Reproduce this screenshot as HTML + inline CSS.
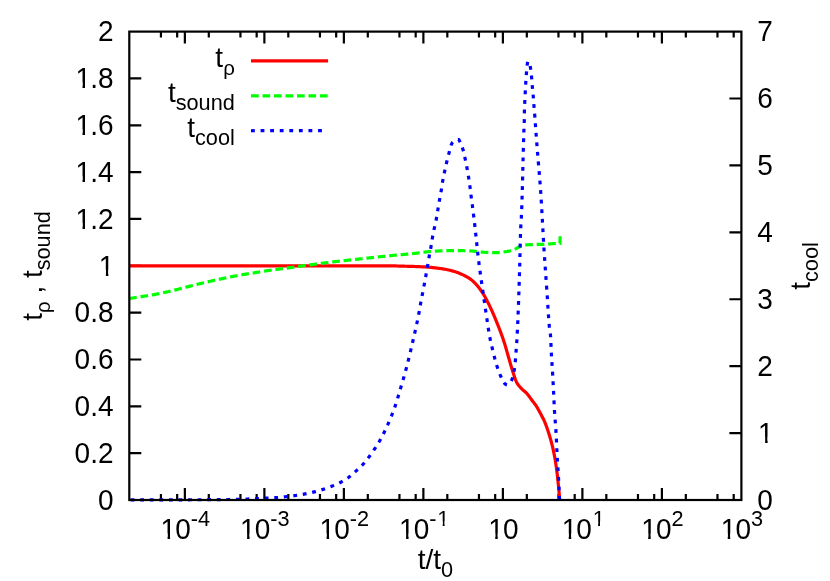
<!DOCTYPE html>
<html>
<head>
<meta charset="utf-8">
<title>plot</title>
<style>
html,body{margin:0;padding:0;background:#fff;}
body{width:830px;height:581px;overflow:hidden;font-family:"Liberation Sans",sans-serif;}
svg{display:block;will-change:transform;}
</style>
</head>
<body>
<svg width="830" height="581" viewBox="0 0 830 581" font-family="'Liberation Sans', sans-serif" font-size="28.00" fill="#000">
<rect width="830" height="581" fill="#fff"/>
<g fill="none" stroke="#000" stroke-width="2.20" stroke-linecap="butt">
<path d="M160.94,500.00 v-6.00 M160.94,31.60 v6.00 M177.17,500.00 v-6.00 M177.17,31.60 v6.00 M184.87,500.00 v-12.00 M184.87,31.60 v12.00 M208.80,500.00 v-6.00 M208.80,31.60 v6.00 M240.44,500.00 v-6.00 M240.44,31.60 v6.00 M256.67,500.00 v-6.00 M256.67,31.60 v6.00 M264.38,500.00 v-12.00 M264.38,31.60 v12.00 M288.31,500.00 v-6.00 M288.31,31.60 v6.00 M319.95,500.00 v-6.00 M319.95,31.60 v6.00 M336.17,500.00 v-6.00 M336.17,31.60 v6.00 M343.88,500.00 v-12.00 M343.88,31.60 v12.00 M367.81,500.00 v-6.00 M367.81,31.60 v6.00 M399.45,500.00 v-6.00 M399.45,31.60 v6.00 M415.68,500.00 v-6.00 M415.68,31.60 v6.00 M423.38,500.00 v-12.00 M423.38,31.60 v12.00 M447.32,500.00 v-6.00 M447.32,31.60 v6.00 M478.95,500.00 v-6.00 M478.95,31.60 v6.00 M495.18,500.00 v-6.00 M495.18,31.60 v6.00 M502.89,500.00 v-12.00 M502.89,31.60 v12.00 M526.82,500.00 v-6.00 M526.82,31.60 v6.00 M558.46,500.00 v-6.00 M558.46,31.60 v6.00 M574.69,500.00 v-6.00 M574.69,31.60 v6.00 M582.39,500.00 v-12.00 M582.39,31.60 v12.00 M606.32,500.00 v-6.00 M606.32,31.60 v6.00 M637.96,500.00 v-6.00 M637.96,31.60 v6.00 M654.19,500.00 v-6.00 M654.19,31.60 v6.00 M661.90,500.00 v-12.00 M661.90,31.60 v12.00 M685.83,500.00 v-6.00 M685.83,31.60 v6.00 M717.47,500.00 v-6.00 M717.47,31.60 v6.00 M733.70,500.00 v-6.00 M733.70,31.60 v6.00 M129.30,453.16 h12.00 M129.30,406.32 h12.00 M129.30,359.48 h12.00 M129.30,312.64 h12.00 M129.30,265.80 h12.00 M129.30,218.96 h12.00 M129.30,172.12 h12.00 M129.30,125.28 h12.00 M129.30,78.44 h12.00 M741.40,433.09 h-12.00 M741.40,366.17 h-12.00 M741.40,299.26 h-12.00 M741.40,232.34 h-12.00 M741.40,165.43 h-12.00 M741.40,98.51 h-12.00"/>
</g>
<g fill="none" stroke-width="3.20" stroke-linejoin="round">
<path d="M129.20,265.80 L130.38,265.80 L131.55,265.80 L132.73,265.80 L133.90,265.80 L135.08,265.80 L136.25,265.80 L137.43,265.80 L138.60,265.80 L139.78,265.80 L140.95,265.80 L142.13,265.80 L143.30,265.80 L144.48,265.80 L145.65,265.80 L146.83,265.80 L148.00,265.80 L149.18,265.80 L150.35,265.80 L151.53,265.80 L152.70,265.80 L153.88,265.80 L155.05,265.80 L156.23,265.80 L157.40,265.80 L158.58,265.80 L159.75,265.80 L160.93,265.80 L162.10,265.80 L163.28,265.80 L164.45,265.80 L165.63,265.80 L166.80,265.80 L167.98,265.80 L169.15,265.80 L170.33,265.80 L171.50,265.80 L172.68,265.80 L173.85,265.80 L175.03,265.80 L176.20,265.80 L177.38,265.80 L178.55,265.80 L179.73,265.80 L180.90,265.80 L182.08,265.80 L183.25,265.80 L184.43,265.80 L185.60,265.80 L186.78,265.80 L187.95,265.80 L189.13,265.80 L190.30,265.80 L191.48,265.80 L192.65,265.80 L193.83,265.80 L195.00,265.80 L196.18,265.80 L197.35,265.80 L198.53,265.80 L199.70,265.80 L200.88,265.80 L202.05,265.80 L203.23,265.80 L204.40,265.80 L205.58,265.80 L206.75,265.80 L207.93,265.80 L209.10,265.80 L210.28,265.80 L211.45,265.80 L212.63,265.80 L213.80,265.80 L214.98,265.80 L216.15,265.80 L217.33,265.80 L218.50,265.80 L219.68,265.80 L220.85,265.80 L222.03,265.80 L223.20,265.80 L224.38,265.80 L225.55,265.80 L226.73,265.80 L227.90,265.80 L229.08,265.80 L230.25,265.80 L231.43,265.80 L232.60,265.80 L233.78,265.80 L234.95,265.80 L236.13,265.80 L237.30,265.80 L238.48,265.80 L239.65,265.80 L240.83,265.80 L242.00,265.80 L243.18,265.80 L244.35,265.80 L245.53,265.80 L246.70,265.80 L247.88,265.80 L249.05,265.80 L250.23,265.80 L251.40,265.80 L252.58,265.80 L253.75,265.80 L254.93,265.80 L256.10,265.80 L257.28,265.80 L258.45,265.80 L259.63,265.80 L260.80,265.80 L261.98,265.80 L263.15,265.80 L264.33,265.80 L265.50,265.80 L266.68,265.80 L267.85,265.80 L269.03,265.80 L270.20,265.80 L271.38,265.80 L272.55,265.80 L273.73,265.80 L274.90,265.80 L276.08,265.80 L277.25,265.80 L278.43,265.80 L279.60,265.80 L280.78,265.80 L281.95,265.80 L283.13,265.80 L284.30,265.80 L285.48,265.80 L286.65,265.80 L287.83,265.80 L289.00,265.80 L290.18,265.80 L291.35,265.80 L292.53,265.80 L293.70,265.80 L294.88,265.80 L296.05,265.80 L297.23,265.80 L298.40,265.80 L299.58,265.80 L300.75,265.80 L301.93,265.80 L303.10,265.80 L304.28,265.80 L305.45,265.80 L306.63,265.80 L307.80,265.80 L308.98,265.80 L310.15,265.80 L311.33,265.80 L312.50,265.80 L313.68,265.80 L314.85,265.80 L316.03,265.80 L317.20,265.80 L318.38,265.80 L319.55,265.80 L320.73,265.80 L321.90,265.80 L323.08,265.80 L324.25,265.80 L325.43,265.80 L326.60,265.80 L327.78,265.80 L328.95,265.80 L330.13,265.80 L331.30,265.80 L332.48,265.80 L333.66,265.80 L334.83,265.80 L336.01,265.80 L337.18,265.80 L338.36,265.80 L339.53,265.80 L340.71,265.80 L341.88,265.80 L343.06,265.80 L344.23,265.80 L345.41,265.80 L346.58,265.80 L347.76,265.80 L348.93,265.80 L350.11,265.80 L351.28,265.80 L352.46,265.80 L353.63,265.80 L354.81,265.80 L355.98,265.80 L357.16,265.80 L358.33,265.80 L359.51,265.80 L360.68,265.80 L361.86,265.80 L363.03,265.80 L364.21,265.80 L365.38,265.80 L366.56,265.80 L367.73,265.80 L368.91,265.80 L370.08,265.80 L371.26,265.80 L372.43,265.80 L373.61,265.80 L374.78,265.80 L375.96,265.80 L377.13,265.80 L378.31,265.80 L379.48,265.80 L380.66,265.80 L381.83,265.80 L383.01,265.80 L384.18,265.80 L385.35,265.80 L386.53,265.80 L387.70,265.80 L388.88,265.81 L390.05,265.82 L391.23,265.84 L392.40,265.87 L393.58,265.90 L394.75,265.94 L395.93,265.97 L397.10,266.01 L398.28,266.05 L399.45,266.08 L400.63,266.12 L401.80,266.15 L402.98,266.18 L404.15,266.21 L405.33,266.24 L406.50,266.27 L407.68,266.30 L408.85,266.34 L410.03,266.37 L411.20,266.40 L412.38,266.44 L413.55,266.47 L414.73,266.51 L415.90,266.55 L417.08,266.59 L418.25,266.64 L419.42,266.69 L420.60,266.73 L421.77,266.79 L422.94,266.84 L424.11,266.90 L425.29,266.97 L426.46,267.04 L427.63,267.12 L428.80,267.22 L429.98,267.32 L431.15,267.42 L432.32,267.54 L433.49,267.66 L434.66,267.79 L435.83,267.93 L437.00,268.07 L438.16,268.22 L439.33,268.37 L440.49,268.53 L441.64,268.69 L442.80,268.87 L443.96,269.07 L445.12,269.28 L446.28,269.51 L447.44,269.75 L448.59,270.01 L449.74,270.27 L450.88,270.56 L452.02,270.85 L453.16,271.16 L454.28,271.47 L455.40,271.80 L456.51,272.16 L457.62,272.55 L458.71,272.98 L459.80,273.44 L460.88,273.92 L461.96,274.41 L463.02,274.91 L464.08,275.42 L465.14,275.94 L466.19,276.49 L467.23,277.06 L468.25,277.65 L469.23,278.28 L470.18,278.93 L471.11,279.63 L472.02,280.37 L472.91,281.15 L473.78,281.96 L474.63,282.79 L475.46,283.65 L476.25,284.51 L477.03,285.37 L477.78,286.26 L478.52,287.17 L479.25,288.10 L479.95,289.05 L480.64,290.01 L481.32,290.99 L481.97,291.97 L482.61,292.95 L483.24,293.94 L483.85,294.94 L484.45,295.94 L485.03,296.96 L485.60,297.99 L486.17,299.02 L486.72,300.06 L487.26,301.11 L487.79,302.16 L488.32,303.22 L488.84,304.28 L489.35,305.34 L489.86,306.39 L490.36,307.45 L490.86,308.51 L491.35,309.58 L491.84,310.65 L492.32,311.72 L492.80,312.80 L493.27,313.87 L493.73,314.95 L494.20,316.04 L494.65,317.12 L495.11,318.21 L495.56,319.29 L496.00,320.38 L496.44,321.47 L496.88,322.56 L497.32,323.65 L497.76,324.74 L498.19,325.83 L498.62,326.92 L499.05,328.02 L499.48,329.11 L499.90,330.21 L500.32,331.31 L500.74,332.41 L501.15,333.51 L501.55,334.62 L501.95,335.72 L502.34,336.83 L502.73,337.94 L503.11,339.05 L503.49,340.16 L503.85,341.28 L504.21,342.39 L504.56,343.51 L504.91,344.64 L505.24,345.76 L505.58,346.89 L505.91,348.01 L506.23,349.14 L506.55,350.28 L506.88,351.41 L507.20,352.54 L507.52,353.67 L507.84,354.80 L508.16,355.93 L508.48,357.06 L508.81,358.19 L509.15,359.32 L509.48,360.44 L509.81,361.57 L510.14,362.70 L510.46,363.83 L510.79,364.96 L511.12,366.09 L511.45,367.22 L511.78,368.35 L512.12,369.47 L512.46,370.60 L512.82,371.72 L513.18,372.83 L513.55,373.95 L513.92,375.06 L514.29,376.19 L514.67,377.32 L515.06,378.45 L515.46,379.57 L515.90,380.66 L516.36,381.72 L516.87,382.75 L517.44,383.74 L518.09,384.70 L518.82,385.63 L519.60,386.54 L520.40,387.43 L521.21,388.29 L522.03,389.13 L522.90,389.92 L523.80,390.68 L524.71,391.43 L525.60,392.21 L526.43,393.03 L527.21,393.89 L527.95,394.80 L528.67,395.73 L529.37,396.67 L530.07,397.63 L530.76,398.59 L531.45,399.54 L532.16,400.48 L532.87,401.41 L533.59,402.35 L534.29,403.29 L534.99,404.24 L535.67,405.20 L536.33,406.17 L536.96,407.15 L537.56,408.16 L538.15,409.18 L538.71,410.21 L539.27,411.25 L539.82,412.29 L540.37,413.33 L540.93,414.36 L541.49,415.40 L542.04,416.44 L542.59,417.48 L543.12,418.53 L543.64,419.58 L544.14,420.65 L544.61,421.72 L545.06,422.80 L545.49,423.89 L545.92,424.98 L546.33,426.08 L546.73,427.19 L547.12,428.30 L547.51,429.41 L547.88,430.53 L548.25,431.65 L548.61,432.77 L548.96,433.89 L549.30,435.01 L549.64,436.14 L549.98,437.26 L550.31,438.39 L550.64,439.52 L550.95,440.65 L551.27,441.79 L551.57,442.92 L551.87,444.06 L552.16,445.20 L552.44,446.34 L552.71,447.49 L552.97,448.63 L553.23,449.77 L553.47,450.92 L553.71,452.07 L553.95,453.22 L554.18,454.38 L554.40,455.53 L554.62,456.69 L554.83,457.84 L555.04,459.00 L555.24,460.16 L555.43,461.32 L555.62,462.48 L555.80,463.64 L555.97,464.80 L556.14,465.96 L556.31,467.13 L556.47,468.29 L556.62,469.45 L556.77,470.62 L556.92,471.79 L557.06,472.95 L557.20,474.12 L557.34,475.29 L557.47,476.46 L557.60,477.62 L557.73,478.79 L557.86,479.96 L557.99,481.13 L558.11,482.30 L558.23,483.47 L558.34,484.63 L558.46,485.80 L558.57,486.97 L558.68,488.14 L558.79,489.31 L558.90,490.48 L559.01,491.65 L559.11,492.82 L559.21,493.99 L559.32,495.17 L559.41,496.34 L559.51,497.51 L559.61,498.68 L559.70,499.85" stroke="#f00"/>
<path d="M129.20,298.50 L130.07,298.38 L130.93,298.25 L131.80,298.12 L132.66,298.00 L133.52,297.87 L134.39,297.74 L135.25,297.61 L136.12,297.48 L136.98,297.35 L137.85,297.22 L138.71,297.09 L139.57,296.95 L140.44,296.82 L141.30,296.68 L142.16,296.55 L143.03,296.41 L143.89,296.27 L144.75,296.14 L145.62,296.00 L146.48,295.86 L147.34,295.73 L148.21,295.59 L149.07,295.45 L149.93,295.31 L150.79,295.16 L151.66,295.02 L152.52,294.87 L153.38,294.72 L154.24,294.57 L155.10,294.41 L155.96,294.25 L156.81,294.09 L157.67,293.92 L158.53,293.75 L159.39,293.58 L160.24,293.40 L161.10,293.22 L161.95,293.04 L162.81,292.85 L163.66,292.67 L164.51,292.48 L165.37,292.29 L166.22,292.09 L167.07,291.90 L167.93,291.71 L168.78,291.51 L169.63,291.32 L170.48,291.12 L171.33,290.91 L172.18,290.71 L173.03,290.50 L173.88,290.29 L174.72,290.08 L175.57,289.87 L176.42,289.66 L177.27,289.44 L178.12,289.23 L178.96,289.02 L179.81,288.80 L180.66,288.59 L181.50,288.37 L182.35,288.16 L183.20,287.94 L184.04,287.72 L184.89,287.49 L185.73,287.27 L186.58,287.05 L187.42,286.82 L188.27,286.60 L189.11,286.38 L189.96,286.16 L190.80,285.94 L191.65,285.72 L192.50,285.50 L193.34,285.29 L194.19,285.08 L195.04,284.87 L195.89,284.66 L196.74,284.46 L197.59,284.25 L198.44,284.05 L199.29,283.84 L200.14,283.64 L200.99,283.44 L201.84,283.24 L202.69,283.04 L203.54,282.84 L204.39,282.64 L205.25,282.45 L206.10,282.25 L206.95,282.05 L207.80,281.85 L208.65,281.65 L209.50,281.45 L210.35,281.26 L211.20,281.06 L212.06,280.86 L212.91,280.66 L213.76,280.47 L214.61,280.28 L215.46,280.08 L216.32,279.89 L217.17,279.70 L218.02,279.51 L218.88,279.33 L219.73,279.14 L220.58,278.96 L221.44,278.77 L222.29,278.59 L223.15,278.41 L224.00,278.23 L224.86,278.05 L225.72,277.88 L226.57,277.70 L227.43,277.53 L228.29,277.35 L229.14,277.18 L230.00,277.01 L230.86,276.84 L231.72,276.68 L232.57,276.51 L233.43,276.35 L234.29,276.19 L235.15,276.03 L236.01,275.87 L236.87,275.71 L237.73,275.55 L238.59,275.40 L239.45,275.24 L240.31,275.09 L241.17,274.94 L242.03,274.79 L242.89,274.64 L243.75,274.49 L244.62,274.35 L245.48,274.20 L246.34,274.06 L247.20,273.92 L248.07,273.78 L248.93,273.65 L249.79,273.51 L250.66,273.38 L251.52,273.24 L252.38,273.11 L253.25,272.97 L254.11,272.84 L254.97,272.70 L255.84,272.57 L256.70,272.43 L257.56,272.29 L258.43,272.15 L259.29,272.01 L260.15,271.87 L261.01,271.73 L261.88,271.59 L262.74,271.44 L263.60,271.30 L264.46,271.16 L265.33,271.02 L266.19,270.88 L267.05,270.75 L267.92,270.61 L268.78,270.48 L269.64,270.35 L270.51,270.23 L271.37,270.10 L272.24,269.98 L273.10,269.86 L273.97,269.74 L274.84,269.63 L275.70,269.51 L276.57,269.40 L277.44,269.29 L278.30,269.17 L279.17,269.06 L280.04,268.95 L280.90,268.84 L281.77,268.73 L282.64,268.62 L283.50,268.51 L284.37,268.39 L285.24,268.28 L286.10,268.17 L286.97,268.05 L287.84,267.94 L288.70,267.82 L289.57,267.70 L290.44,267.58 L291.30,267.46 L292.17,267.34 L293.03,267.22 L293.90,267.10 L294.76,266.98 L295.63,266.86 L296.49,266.74 L297.36,266.61 L298.23,266.49 L299.09,266.37 L299.96,266.25 L300.82,266.13 L301.69,266.01 L302.55,265.89 L303.42,265.77 L304.28,265.65 L305.15,265.53 L306.02,265.41 L306.88,265.29 L307.75,265.18 L308.61,265.06 L309.48,264.94 L310.35,264.82 L311.21,264.71 L312.08,264.59 L312.94,264.47 L313.81,264.36 L314.68,264.24 L315.54,264.13 L316.41,264.01 L317.28,263.90 L318.14,263.78 L319.01,263.67 L319.88,263.56 L320.74,263.44 L321.61,263.33 L322.48,263.22 L323.34,263.11 L324.21,263.00 L325.08,262.89 L325.94,262.78 L326.81,262.67 L327.68,262.56 L328.55,262.45 L329.41,262.34 L330.28,262.23 L331.15,262.13 L332.01,262.02 L332.88,261.91 L333.75,261.81 L334.62,261.70 L335.48,261.60 L336.35,261.49 L337.22,261.39 L338.09,261.29 L338.96,261.18 L339.82,261.08 L340.69,260.98 L341.56,260.88 L342.43,260.79 L343.30,260.69 L344.17,260.59 L345.04,260.50 L345.90,260.41 L346.77,260.31 L347.64,260.22 L348.51,260.13 L349.38,260.04 L350.25,259.95 L351.12,259.86 L351.99,259.77 L352.86,259.69 L353.73,259.60 L354.60,259.51 L355.47,259.42 L356.34,259.33 L357.21,259.24 L358.07,259.15 L358.94,259.06 L359.81,258.96 L360.68,258.87 L361.55,258.77 L362.42,258.68 L363.29,258.58 L364.16,258.49 L365.03,258.39 L365.89,258.29 L366.76,258.19 L367.63,258.09 L368.50,258.00 L369.37,257.90 L370.24,257.80 L371.10,257.70 L371.97,257.60 L372.84,257.51 L373.71,257.41 L374.58,257.31 L375.45,257.22 L376.32,257.12 L377.18,257.03 L378.05,256.94 L378.92,256.85 L379.79,256.75 L380.66,256.66 L381.53,256.58 L382.40,256.49 L383.27,256.40 L384.14,256.31 L385.01,256.22 L385.88,256.13 L386.75,256.05 L387.62,255.96 L388.49,255.88 L389.36,255.79 L390.23,255.71 L391.10,255.62 L391.97,255.54 L392.84,255.45 L393.71,255.37 L394.58,255.28 L395.45,255.20 L396.32,255.12 L397.19,255.03 L398.06,254.95 L398.93,254.87 L399.80,254.80 L400.67,254.72 L401.54,254.64 L402.41,254.57 L403.28,254.49 L404.15,254.41 L405.02,254.34 L405.89,254.26 L406.76,254.18 L407.63,254.11 L408.50,254.03 L409.37,253.95 L410.24,253.87 L411.11,253.78 L411.98,253.70 L412.85,253.61 L413.72,253.52 L414.59,253.42 L415.46,253.32 L416.33,253.22 L417.19,253.10 L418.06,252.99 L418.93,252.87 L419.79,252.74 L420.66,252.62 L421.53,252.50 L422.39,252.38 L423.26,252.26 L424.13,252.15 L424.99,252.04 L425.86,251.93 L426.73,251.84 L427.60,251.75 L428.47,251.67 L429.34,251.60 L430.21,251.53 L431.08,251.47 L431.95,251.40 L432.82,251.34 L433.69,251.27 L434.56,251.21 L435.44,251.15 L436.31,251.09 L437.18,251.03 L438.05,250.98 L438.93,250.92 L439.80,250.87 L440.67,250.83 L441.55,250.78 L442.42,250.74 L443.30,250.71 L444.17,250.68 L445.04,250.65 L445.92,250.63 L446.79,250.61 L447.66,250.60 L448.54,250.60 L449.41,250.60 L450.28,250.60 L451.16,250.60 L452.03,250.61 L452.91,250.61 L453.78,250.62 L454.66,250.62 L455.53,250.63 L456.40,250.64 L457.28,250.64 L458.15,250.65 L459.03,250.66 L459.90,250.67 L460.78,250.68 L461.65,250.70 L462.53,250.71 L463.40,250.72 L464.27,250.74 L465.15,250.75 L466.02,250.77 L466.89,250.78 L467.76,250.80 L468.64,250.82 L469.51,250.87 L470.38,250.92 L471.25,250.99 L472.12,251.07 L472.99,251.16 L473.86,251.25 L474.73,251.35 L475.60,251.46 L476.47,251.56 L477.34,251.66 L478.21,251.77 L479.08,251.86 L479.95,251.95 L480.82,252.03 L481.69,252.10 L482.56,252.16 L483.43,252.21 L484.30,252.24 L485.18,252.28 L486.05,252.32 L486.92,252.36 L487.80,252.39 L488.67,252.43 L489.55,252.46 L490.42,252.49 L491.30,252.51 L492.17,252.54 L493.04,252.56 L493.92,252.58 L494.79,252.59 L495.66,252.60 L496.54,252.60 L497.41,252.59 L498.28,252.56 L499.15,252.51 L500.03,252.44 L500.90,252.36 L501.77,252.26 L502.65,252.15 L503.51,252.03 L504.38,251.91 L505.24,251.78 L506.10,251.65 L506.96,251.51 L507.82,251.34 L508.67,251.16 L509.53,250.94 L510.38,250.71 L511.22,250.46 L512.06,250.20 L512.89,249.92 L513.71,249.64 L514.52,249.34 L515.31,248.98 L516.09,248.57 L516.86,248.14 L517.62,247.70 L518.40,247.28 L519.18,246.90 L519.98,246.57 L520.80,246.26 L521.63,245.95 L522.46,245.65 L523.30,245.38 L524.15,245.15 L525.00,244.98 L525.86,244.89 L526.72,244.83 L527.58,244.77 L528.45,244.73 L529.32,244.69 L530.20,244.65 L531.08,244.62 L531.96,244.59 L532.84,244.57 L533.72,244.54 L534.59,244.52 L535.47,244.50 L536.34,244.47 L537.22,244.46 L538.09,244.44 L538.96,244.42 L539.84,244.41 L540.71,244.40 L541.59,244.38 L542.46,244.36 L543.33,244.35 L544.21,244.32 L545.08,244.29 L545.95,244.25 L546.82,244.20 L547.69,244.14 L548.57,244.06 L549.44,243.99 L550.31,243.91 L551.18,243.83 L552.05,243.75 L552.92,243.68 L553.79,243.61 L554.66,243.53 L555.53,243.46 L556.41,243.40 L557.28,243.37 L558.15,243.34 L559.03,243.31 L559.90,243.30 L560.15,236.30" stroke="#0f0" stroke-dasharray="7.65 3.82" stroke-linejoin="miter"/>
<path d="M129.20,499.85 L130.38,499.85 L131.55,499.85 L132.73,499.85 L133.90,499.85 L135.08,499.85 L136.25,499.85 L137.43,499.85 L138.60,499.85 L139.78,499.85 L140.95,499.85 L142.13,499.85 L143.30,499.85 L144.48,499.85 L145.65,499.84 L146.83,499.84 L148.00,499.84 L149.18,499.84 L150.35,499.84 L151.53,499.84 L152.70,499.84 L153.88,499.84 L155.05,499.84 L156.23,499.83 L157.40,499.83 L158.58,499.83 L159.75,499.83 L160.93,499.83 L162.10,499.83 L163.28,499.83 L164.45,499.82 L165.63,499.82 L166.80,499.82 L167.98,499.82 L169.15,499.82 L170.33,499.82 L171.50,499.81 L172.68,499.81 L173.85,499.81 L175.03,499.81 L176.20,499.80 L177.38,499.80 L178.55,499.80 L179.73,499.80 L180.90,499.80 L182.08,499.79 L183.25,499.79 L184.43,499.79 L185.60,499.79 L186.78,499.78 L187.95,499.78 L189.13,499.78 L190.30,499.77 L191.48,499.77 L192.65,499.77 L193.83,499.77 L195.00,499.76 L196.18,499.76 L197.35,499.76 L198.53,499.75 L199.70,499.75 L200.88,499.75 L202.05,499.74 L203.23,499.74 L204.40,499.73 L205.58,499.73 L206.76,499.72 L207.93,499.71 L209.11,499.71 L210.28,499.70 L211.46,499.69 L212.63,499.68 L213.81,499.67 L214.98,499.66 L216.16,499.65 L217.33,499.64 L218.51,499.62 L219.68,499.61 L220.86,499.60 L222.03,499.58 L223.21,499.57 L224.38,499.56 L225.56,499.54 L226.73,499.52 L227.91,499.51 L229.08,499.49 L230.26,499.47 L231.43,499.46 L232.61,499.44 L233.78,499.42 L234.96,499.40 L236.13,499.38 L237.30,499.36 L238.48,499.33 L239.65,499.30 L240.83,499.26 L242.00,499.23 L243.18,499.19 L244.35,499.14 L245.53,499.10 L246.70,499.06 L247.88,499.01 L249.05,498.96 L250.22,498.91 L251.40,498.86 L252.57,498.81 L253.75,498.76 L254.92,498.70 L256.09,498.65 L257.27,498.58 L258.44,498.51 L259.61,498.44 L260.78,498.37 L261.96,498.29 L263.13,498.22 L264.30,498.16 L265.48,498.10 L266.65,498.04 L267.83,498.00 L269.00,497.96 L270.18,497.91 L271.35,497.87 L272.52,497.83 L273.70,497.77 L274.87,497.71 L276.04,497.64 L277.21,497.55 L278.38,497.45 L279.55,497.33 L280.72,497.21 L281.89,497.09 L283.06,496.96 L284.23,496.84 L285.40,496.72 L286.57,496.59 L287.74,496.47 L288.90,496.34 L290.07,496.21 L291.24,496.07 L292.41,495.93 L293.57,495.78 L294.74,495.63 L295.90,495.46 L297.06,495.29 L298.22,495.11 L299.38,494.93 L300.54,494.74 L301.70,494.54 L302.86,494.33 L304.02,494.12 L305.17,493.91 L306.32,493.68 L307.48,493.45 L308.63,493.21 L309.78,492.96 L310.93,492.71 L312.07,492.44 L313.21,492.17 L314.35,491.89 L315.49,491.59 L316.62,491.29 L317.76,490.97 L318.89,490.64 L320.01,490.31 L321.14,489.97 L322.26,489.62 L323.38,489.26 L324.49,488.90 L325.61,488.52 L326.72,488.13 L327.83,487.74 L328.93,487.34 L330.03,486.93 L331.13,486.51 L332.22,486.08 L333.31,485.64 L334.40,485.19 L335.49,484.74 L336.57,484.27 L337.64,483.78 L338.71,483.29 L339.76,482.77 L340.80,482.24 L341.84,481.69 L342.87,481.11 L343.89,480.52 L344.90,479.91 L345.90,479.28 L346.88,478.64 L347.85,477.98 L348.79,477.30 L349.71,476.58 L350.62,475.84 L351.52,475.07 L352.40,474.29 L353.28,473.50 L354.15,472.71 L355.03,471.92 L355.90,471.13 L356.78,470.35 L357.66,469.56 L358.53,468.77 L359.40,467.97 L360.25,467.17 L361.09,466.35 L361.92,465.51 L362.72,464.66 L363.50,463.79 L364.27,462.90 L365.02,462.00 L365.76,461.09 L366.50,460.16 L367.22,459.23 L367.94,458.30 L368.65,457.37 L369.36,456.43 L370.06,455.49 L370.76,454.54 L371.44,453.59 L372.12,452.63 L372.80,451.66 L373.46,450.69 L374.12,449.72 L374.77,448.74 L375.41,447.76 L376.05,446.77 L376.69,445.78 L377.31,444.78 L377.93,443.78 L378.53,442.78 L379.13,441.77 L379.72,440.75 L380.30,439.73 L380.87,438.70 L381.43,437.67 L381.98,436.63 L382.53,435.59 L383.07,434.54 L383.60,433.50 L384.13,432.45 L384.64,431.39 L385.15,430.33 L385.65,429.27 L386.15,428.20 L386.64,427.13 L387.12,426.06 L387.60,424.99 L388.08,423.92 L388.55,422.84 L389.02,421.76 L389.49,420.69 L389.95,419.60 L390.41,418.52 L390.86,417.43 L391.30,416.35 L391.74,415.26 L392.17,414.16 L392.60,413.07 L393.02,411.97 L393.44,410.88 L393.86,409.77 L394.26,408.67 L394.66,407.57 L395.04,406.46 L395.42,405.34 L395.79,404.23 L396.15,403.11 L396.50,401.99 L396.85,400.87 L397.20,399.75 L397.54,398.62 L397.87,397.50 L398.20,396.37 L398.53,395.24 L398.86,394.11 L399.19,392.98 L399.52,391.85 L399.85,390.72 L400.17,389.59 L400.50,388.47 L400.84,387.34 L401.17,386.21 L401.50,385.09 L401.84,383.96 L402.17,382.83 L402.50,381.70 L402.84,380.58 L403.17,379.45 L403.50,378.32 L403.83,377.19 L404.15,376.06 L404.47,374.93 L404.79,373.80 L405.11,372.67 L405.42,371.54 L405.73,370.41 L406.03,369.27 L406.33,368.14 L406.63,367.00 L406.92,365.86 L407.21,364.72 L407.50,363.58 L407.79,362.44 L408.07,361.30 L408.35,360.16 L408.63,359.02 L408.91,357.88 L409.18,356.73 L409.46,355.59 L409.73,354.45 L410.01,353.31 L410.28,352.16 L410.55,351.02 L410.82,349.88 L411.10,348.73 L411.37,347.59 L411.64,346.45 L411.91,345.30 L412.18,344.16 L412.45,343.02 L412.71,341.87 L412.98,340.73 L413.24,339.58 L413.51,338.44 L413.77,337.29 L414.03,336.14 L414.29,335.00 L414.54,333.85 L414.80,332.71 L415.05,331.56 L415.31,330.41 L415.56,329.26 L415.81,328.12 L416.07,326.97 L416.32,325.82 L416.57,324.67 L416.82,323.52 L417.06,322.37 L417.31,321.22 L417.55,320.07 L417.79,318.92 L418.03,317.77 L418.26,316.62 L418.49,315.47 L418.71,314.31 L418.93,313.16 L419.15,312.01 L419.35,310.85 L419.55,309.69 L419.74,308.53 L419.93,307.37 L420.13,306.21 L420.33,305.05 L420.53,303.90 L420.74,302.74 L420.96,301.59 L421.18,300.43 L421.40,299.28 L421.63,298.13 L421.86,296.97 L422.08,295.82 L422.31,294.67 L422.53,293.51 L422.76,292.36 L422.98,291.21 L423.20,290.05 L423.42,288.90 L423.64,287.74 L423.86,286.59 L424.08,285.43 L424.30,284.28 L424.51,283.12 L424.73,281.97 L424.94,280.81 L425.15,279.66 L425.36,278.50 L425.57,277.34 L425.78,276.19 L425.98,275.03 L426.19,273.87 L426.40,272.72 L426.61,271.56 L426.81,270.40 L427.02,269.25 L427.22,268.09 L427.42,266.93 L427.62,265.77 L427.82,264.62 L428.01,263.46 L428.20,262.30 L428.39,261.14 L428.58,259.98 L428.77,258.82 L428.97,257.66 L429.16,256.50 L429.37,255.34 L429.58,254.19 L429.80,253.03 L430.02,251.88 L430.24,250.73 L430.46,249.57 L430.68,248.42 L430.89,247.26 L431.08,246.10 L431.27,244.94 L431.45,243.78 L431.63,242.62 L431.81,241.46 L431.99,240.29 L432.17,239.13 L432.37,237.98 L432.58,236.82 L432.80,235.67 L433.02,234.51 L433.25,233.36 L433.49,232.21 L433.73,231.06 L433.97,229.91 L434.22,228.76 L434.46,227.61 L434.70,226.46 L434.95,225.31 L435.21,224.16 L435.47,223.02 L435.72,221.87 L435.97,220.72 L436.21,219.57 L436.44,218.42 L436.65,217.26 L436.85,216.11 L437.04,214.95 L437.22,213.79 L437.40,212.62 L437.58,211.46 L437.76,210.30 L437.94,209.14 L438.14,207.98 L438.33,206.82 L438.53,205.66 L438.73,204.51 L438.93,203.35 L439.13,202.19 L439.33,201.03 L439.53,199.88 L439.74,198.72 L439.95,197.56 L440.17,196.41 L440.39,195.25 L440.60,194.10 L440.82,192.94 L441.03,191.79 L441.23,190.63 L441.42,189.47 L441.60,188.31 L441.77,187.15 L441.94,185.98 L442.10,184.82 L442.28,183.66 L442.45,182.49 L442.64,181.33 L442.85,180.18 L443.06,179.02 L443.28,177.87 L443.51,176.72 L443.75,175.57 L443.99,174.41 L444.23,173.26 L444.48,172.12 L444.72,170.97 L444.97,169.82 L445.22,168.67 L445.47,167.52 L445.72,166.37 L445.98,165.23 L446.24,164.08 L446.51,162.94 L446.78,161.79 L447.06,160.65 L447.33,159.51 L447.61,158.37 L447.90,157.23 L448.19,156.09 L448.48,154.95 L448.79,153.81 L449.10,152.68 L449.43,151.55 L449.74,150.35 L450.04,149.11 L450.35,147.85 L450.68,146.62 L451.04,145.45 L451.44,144.38 L451.90,143.44 L452.43,142.66 L453.11,142.00 L454.00,141.37 L455.04,140.81 L456.21,140.32 L457.47,139.91 L458.80,139.60 L459.20,140.35 L459.59,141.11 L459.97,141.88 L460.34,142.64 L460.70,143.41 L461.04,144.19 L461.37,144.96 L461.69,145.75 L461.99,146.53 L462.28,147.32 L462.55,148.12 L462.80,148.91 L463.04,149.71 L463.26,150.52 L463.48,151.34 L463.68,152.16 L463.87,152.98 L464.06,153.81 L464.24,154.64 L464.42,155.47 L464.59,156.30 L464.77,157.13 L464.95,157.95 L465.13,158.78 L465.31,159.60 L465.48,160.43 L465.66,161.26 L465.83,162.08 L466.00,162.91 L466.17,163.74 L466.33,164.57 L466.50,165.40 L466.66,166.23 L466.82,167.06 L466.97,167.89 L467.12,168.72 L467.28,169.55 L467.42,170.38 L467.57,171.21 L467.72,172.04 L467.86,172.88 L468.00,173.71 L468.14,174.54 L468.28,175.38 L468.41,176.21 L468.54,177.04 L468.67,177.88 L468.80,178.71 L468.93,179.55 L469.06,180.38 L469.18,181.22 L469.30,182.05 L469.42,182.89 L469.54,183.73 L469.66,184.56 L469.77,185.40 L469.88,186.24 L470.00,187.07 L470.11,187.91 L470.21,188.75 L470.32,189.59 L470.42,190.43 L470.52,191.27 L470.62,192.10 L470.72,192.94 L470.82,193.78 L470.92,194.62 L471.02,195.46 L471.12,196.30 L471.23,197.14 L471.34,197.97 L471.45,198.81 L471.57,199.65 L471.69,200.48 L471.80,201.32 L471.92,202.16 L472.04,202.99 L472.15,203.83 L472.27,204.67 L472.38,205.50 L472.49,206.34 L472.60,207.18 L472.71,208.02 L472.81,208.86 L472.92,209.69 L473.02,210.53 L473.13,211.37 L473.23,212.21 L473.33,213.05 L473.43,213.89 L473.53,214.72 L473.64,215.56 L473.74,216.40 L473.84,217.24 L473.94,218.08 L474.04,218.92 L474.14,219.76 L474.24,220.59 L474.34,221.43 L474.44,222.27 L474.54,223.11 L474.63,223.95 L474.73,224.79 L474.83,225.63 L474.92,226.47 L475.01,227.31 L475.10,228.15 L475.19,228.99 L475.28,229.83 L475.37,230.67 L475.46,231.51 L475.55,232.35 L475.64,233.19 L475.73,234.03 L475.82,234.87 L475.91,235.71 L476.00,236.55 L476.09,237.39 L476.18,238.23 L476.27,239.07 L476.36,239.91 L476.44,240.75 L476.53,241.59 L476.62,242.43 L476.71,243.27 L476.80,244.11 L476.89,244.95 L476.98,245.79 L477.07,246.63 L477.16,247.47 L477.24,248.31 L477.33,249.15 L477.43,249.99 L477.52,250.83 L477.61,251.67 L477.70,252.51 L477.79,253.35 L477.89,254.19 L477.98,255.03 L478.08,255.86 L478.17,256.70 L478.27,257.54 L478.37,258.38 L478.47,259.22 L478.57,260.06 L478.67,260.90 L478.78,261.73 L478.88,262.57 L478.99,263.41 L479.09,264.25 L479.20,265.09 L479.31,265.92 L479.42,266.76 L479.53,267.60 L479.64,268.44 L479.75,269.27 L479.86,270.11 L479.97,270.95 L480.09,271.78 L480.20,272.62 L480.32,273.46 L480.43,274.30 L480.55,275.13 L480.67,275.97 L480.78,276.81 L480.90,277.64 L481.02,278.48 L481.14,279.31 L481.26,280.15 L481.38,280.99 L481.49,281.82 L481.61,282.66 L481.73,283.50 L481.85,284.33 L481.97,285.17 L482.09,286.01 L482.22,286.84 L482.34,287.68 L482.46,288.51 L482.58,289.35 L482.70,290.19 L482.82,291.02 L482.94,291.86 L483.06,292.69 L483.18,293.53 L483.30,294.37 L483.41,295.20 L483.53,296.04 L483.65,296.88 L483.78,297.71 L483.90,298.55 L484.02,299.38 L484.14,300.22 L484.26,301.06 L484.38,301.89 L484.51,302.73 L484.63,303.56 L484.75,304.40 L484.87,305.23 L485.00,306.07 L485.12,306.91 L485.24,307.74 L485.37,308.58 L485.49,309.41 L485.62,310.25 L485.74,311.08 L485.86,311.92 L485.99,312.75 L486.11,313.59 L486.24,314.43 L486.36,315.26 L486.49,316.10 L486.61,316.93 L486.73,317.77 L486.86,318.60 L486.98,319.44 L487.11,320.27 L487.23,321.11 L487.35,321.95 L487.48,322.78 L487.60,323.62 L487.72,324.45 L487.84,325.29 L487.96,326.13 L488.08,326.96 L488.21,327.80 L488.34,328.63 L488.47,329.47 L488.60,330.30 L488.74,331.13 L488.87,331.97 L489.01,332.80 L489.16,333.63 L489.30,334.47 L489.45,335.30 L489.60,336.13 L489.75,336.96 L489.91,337.79 L490.07,338.62 L490.23,339.45 L490.40,340.28 L490.57,341.10 L490.75,341.93 L490.94,342.75 L491.13,343.57 L491.32,344.40 L491.51,345.22 L491.71,346.04 L491.91,346.86 L492.11,347.68 L492.31,348.50 L492.50,349.33 L492.70,350.15 L492.89,350.97 L493.09,351.79 L493.29,352.61 L493.49,353.43 L493.69,354.25 L493.90,355.07 L494.10,355.89 L494.31,356.71 L494.53,357.53 L494.74,358.34 L494.96,359.16 L495.19,359.97 L495.41,360.79 L495.64,361.60 L495.87,362.42 L496.10,363.23 L496.34,364.04 L496.58,364.85 L496.83,365.65 L497.09,366.46 L497.35,367.26 L497.61,368.06 L497.88,368.87 L498.16,369.67 L498.43,370.48 L498.72,371.28 L499.01,372.07 L499.31,372.86 L499.62,373.65 L499.95,374.43 L500.28,375.20 L500.63,375.96 L500.98,376.73 L501.34,377.54 L501.70,378.36 L502.08,379.19 L502.47,380.01 L502.88,380.81 L503.32,381.59 L503.77,382.32 L504.26,382.99 L504.77,383.60 L505.32,384.13 L505.91,384.57 L506.66,384.92 L507.50,385.20" stroke="#00f" stroke-dasharray="3.83 5.75" stroke-dashoffset="8.18"/>
<path d="M507.50,385.20 L508.35,384.43 L509.17,383.62 L509.93,382.79 L510.61,381.94 L511.21,381.05 L511.70,380.13 L512.08,379.18 L512.43,378.19 L512.75,377.15 L513.03,376.09 L513.29,375.00 L513.53,373.91 L513.74,372.81 L513.94,371.72 L514.13,370.64 L514.30,369.56 L514.46,368.49 L514.61,367.40 L514.75,366.32 L514.88,365.23 L515.01,364.15 L515.12,363.06 L515.23,361.97 L515.34,360.89 L515.44,359.80 L515.53,358.71 L515.62,357.62 L515.70,356.54 L515.78,355.45 L515.86,354.36 L515.93,353.27 L516.01,352.18 L516.09,351.09 L516.18,350.00 L516.26,348.91 L516.35,347.82 L516.43,346.73 L516.51,345.65 L516.59,344.56 L516.67,343.47 L516.74,342.38 L516.81,341.29 L516.88,340.20 L516.94,339.11 L517.00,338.02 L517.05,336.93 L517.11,335.84 L517.16,334.75 L517.22,333.66 L517.27,332.57 L517.33,331.48 L517.38,330.39 L517.44,329.30 L517.49,328.21 L517.55,327.12 L517.60,326.03 L517.65,324.93 L517.71,323.84 L517.75,322.75 L517.80,321.66 L517.85,320.57 L517.89,319.48 L517.94,318.39 L517.98,317.30 L518.03,316.21 L518.07,315.12 L518.11,314.03 L518.15,312.94 L518.20,311.85 L518.24,310.75 L518.28,309.66 L518.32,308.57 L518.36,307.48 L518.40,306.39 L518.44,305.30 L518.48,304.21 L518.52,303.12 L518.56,302.03 L518.60,300.93 L518.64,299.84 L518.67,298.75 L518.71,297.66 L518.75,296.57 L518.79,295.48 L518.82,294.39 L518.86,293.30 L518.90,292.21 L518.93,291.11 L518.97,290.02 L519.00,288.93 L519.04,287.84 L519.07,286.75 L519.11,285.66 L519.14,284.57 L519.18,283.48 L519.21,282.38 L519.25,281.29 L519.28,280.20 L519.32,279.11 L519.35,278.02 L519.38,276.93 L519.42,275.84 L519.45,274.75 L519.49,273.65 L519.52,272.56 L519.55,271.47 L519.58,270.38 L519.61,269.29 L519.64,268.20 L519.67,267.11 L519.70,266.02 L519.73,264.92 L519.76,263.83 L519.78,262.74 L519.81,261.65 L519.84,260.56 L519.86,259.47 L519.89,258.37 L519.91,257.28 L519.94,256.19 L519.96,255.10 L519.99,254.01 L520.01,252.92 L520.04,251.82 L520.06,250.73 L520.09,249.64 L520.11,248.55 L520.14,247.46 L520.16,246.37 L520.19,245.27 L520.22,244.18 L520.25,243.09 L520.27,242.00 L520.30,240.91 L520.33,239.82 L520.36,238.73 L520.39,237.63 L520.43,236.54 L520.46,235.45 L520.50,234.36 L520.53,233.27 L520.57,232.18 L520.61,231.09 L520.64,230.00 L520.68,228.91 L520.73,227.82 L520.77,226.73 L520.82,225.64 L520.87,224.55 L520.94,223.46 L521.01,222.37 L521.09,221.28 L521.16,220.19 L521.24,219.10 L521.31,218.01 L521.37,216.92 L521.42,215.83 L521.46,214.74 L521.51,213.65 L521.55,212.56 L521.60,211.47 L521.64,210.38 L521.68,209.29 L521.72,208.19 L521.76,207.10 L521.80,206.01 L521.84,204.92 L521.88,203.83 L521.91,202.74 L521.95,201.65 L521.99,200.56 L522.02,199.47 L522.06,198.38 L522.09,197.29 L522.13,196.19 L522.16,195.10 L522.19,194.01 L522.22,192.92 L522.25,191.83 L522.28,190.74 L522.32,189.65 L522.35,188.55 L522.38,187.46 L522.40,186.37 L522.43,185.28 L522.46,184.19 L522.49,183.10 L522.52,182.01 L522.55,180.91 L522.57,179.82 L522.60,178.73 L522.63,177.64 L522.65,176.55 L522.68,175.46 L522.71,174.37 L522.73,173.27 L522.76,172.18 L522.79,171.09 L522.81,170.00 L522.84,168.91 L522.86,167.82 L522.89,166.72 L522.92,165.63 L522.94,164.54 L522.97,163.45 L523.00,162.36 L523.02,161.27 L523.05,160.17 L523.07,159.08 L523.10,157.99 L523.13,156.90 L523.16,155.81 L523.18,154.72 L523.21,153.62 L523.24,152.53 L523.27,151.44 L523.30,150.35 L523.33,149.26 L523.35,148.17 L523.38,147.08 L523.41,145.98 L523.44,144.89 L523.48,143.80 L523.51,142.71 L523.54,141.62 L523.57,140.53 L523.60,139.44 L523.64,138.34 L523.67,137.25 L523.70,136.16 L523.74,135.07 L523.77,133.98 L523.80,132.89 L523.84,131.80 L523.88,130.71 L523.92,129.61 L523.97,128.52 L524.02,127.43 L524.07,126.34 L524.13,125.25 L524.18,124.16 L524.23,123.07 L524.27,121.98 L524.30,120.89 L524.31,119.80 L524.33,118.71 L524.34,117.61 L524.35,116.52 L524.35,115.43 L524.36,114.34 L524.37,113.25 L524.38,112.15 L524.40,111.06 L524.42,109.97 L524.45,108.88 L524.49,107.79 L524.53,106.70 L524.58,105.61 L524.64,104.52 L524.69,103.43 L524.75,102.34 L524.80,101.25 L524.85,100.16 L524.91,99.07 L524.96,97.97 L525.02,96.88 L525.08,95.79 L525.14,94.70 L525.20,93.61 L525.26,92.52 L525.32,91.43 L525.37,90.34 L525.43,89.25 L525.48,88.16 L525.53,87.07 L525.59,85.98 L525.64,84.89 L525.70,83.80 L525.76,82.71 L525.82,81.62 L525.89,80.53 L525.96,79.44 L526.03,78.35 L526.11,77.26 L526.19,76.17 L526.27,75.09 L526.35,74.00 L526.44,72.91 L526.53,71.82 L526.62,70.73 L526.71,69.64 L526.80,68.55 L526.90,67.46 L527.01,66.38 L527.13,65.29 L527.27,64.21 L527.44,63.14 L527.66,62.07 L527.90,61.00" stroke="#00f" stroke-dasharray="3.83 5.75" stroke-dashoffset="3.84"/>
<path d="M527.90,61.00 L528.52,61.94 L529.06,62.91 L529.50,63.91 L529.83,64.95 L530.11,66.02 L530.34,67.11 L530.53,68.19 L530.70,69.28 L530.85,70.37 L530.98,71.47 L531.11,72.57 L531.22,73.67 L531.33,74.77 L531.44,75.87 L531.54,76.97 L531.64,78.07 L531.74,79.17 L531.82,80.27 L531.91,81.37 L531.99,82.47 L532.08,83.57 L532.16,84.67 L532.25,85.77 L532.35,86.87 L532.45,87.97 L532.56,89.07 L532.67,90.16 L532.78,91.26 L532.89,92.36 L533.00,93.46 L533.10,94.56 L533.20,95.66 L533.29,96.76 L533.37,97.86 L533.45,98.96 L533.53,100.06 L533.61,101.16 L533.68,102.26 L533.76,103.36 L533.84,104.47 L533.93,105.57 L534.02,106.67 L534.11,107.77 L534.21,108.87 L534.30,109.96 L534.40,111.06 L534.49,112.16 L534.59,113.26 L534.67,114.36 L534.76,115.46 L534.84,116.57 L534.92,117.67 L535.00,118.77 L535.08,119.87 L535.15,120.97 L535.23,122.07 L535.31,123.17 L535.38,124.27 L535.46,125.37 L535.54,126.47 L535.62,127.58 L535.70,128.68 L535.78,129.78 L535.86,130.88 L535.94,131.98 L536.02,133.08 L536.11,134.18 L536.19,135.28 L536.27,136.38 L536.35,137.48 L536.43,138.58 L536.52,139.68 L536.60,140.79 L536.68,141.89 L536.77,142.99 L536.85,144.09 L536.94,145.19 L537.03,146.29 L537.11,147.39 L537.20,148.49 L537.29,149.59 L537.38,150.69 L537.47,151.79 L537.56,152.89 L537.65,153.99 L537.74,155.09 L537.83,156.19 L537.93,157.29 L538.02,158.39 L538.11,159.49 L538.20,160.59 L538.30,161.69 L538.39,162.79 L538.48,163.89 L538.58,164.99 L538.67,166.09 L538.76,167.19 L538.85,168.29 L538.94,169.39 L539.04,170.49 L539.13,171.59 L539.22,172.69 L539.31,173.79 L539.40,174.89 L539.49,175.99 L539.58,177.09 L539.67,178.19 L539.75,179.29 L539.84,180.39 L539.93,181.49 L540.01,182.59 L540.09,183.69 L540.18,184.79 L540.26,185.89 L540.34,186.99 L540.42,188.09 L540.50,189.20 L540.58,190.30 L540.65,191.40 L540.73,192.50 L540.80,193.60 L540.87,194.70 L540.94,195.80 L541.02,196.90 L541.09,198.01 L541.15,199.11 L541.22,200.21 L541.29,201.31 L541.36,202.41 L541.42,203.51 L541.49,204.62 L541.55,205.72 L541.62,206.82 L541.68,207.92 L541.75,209.02 L541.81,210.12 L541.87,211.23 L541.93,212.33 L541.99,213.43 L542.06,214.53 L542.12,215.64 L542.18,216.74 L542.24,217.84 L542.30,218.94 L542.36,220.04 L542.42,221.15 L542.48,222.25 L542.54,223.35 L542.60,224.45 L542.66,225.56 L542.72,226.66 L542.78,227.76 L542.84,228.86 L542.90,229.96 L542.96,231.07 L543.02,232.17 L543.08,233.27 L543.14,234.37 L543.20,235.48 L543.26,236.58 L543.32,237.68 L543.39,238.78 L543.45,239.88 L543.51,240.99 L543.58,242.09 L543.64,243.19 L543.71,244.29 L543.77,245.39 L543.84,246.50 L543.91,247.60 L543.97,248.70 L544.04,249.80 L544.11,250.90 L544.18,252.00 L544.25,253.10 L544.33,254.21 L544.40,255.31 L544.47,256.41 L544.54,257.51 L544.62,258.61 L544.69,259.71 L544.76,260.81 L544.84,261.92 L544.91,263.02 L544.99,264.12 L545.07,265.22 L545.14,266.32 L545.22,267.42 L545.30,268.52 L545.37,269.62 L545.45,270.72 L545.53,271.83 L545.61,272.93 L545.68,274.03 L545.76,275.13 L545.84,276.23 L545.92,277.33 L546.00,278.43 L546.07,279.53 L546.15,280.63 L546.23,281.73 L546.31,282.84 L546.39,283.94 L546.47,285.04 L546.54,286.14 L546.62,287.24 L546.70,288.34 L546.78,289.44 L546.85,290.54 L546.93,291.64 L547.01,292.75 L547.09,293.85 L547.16,294.95 L547.24,296.05 L547.31,297.15 L547.38,298.25 L547.46,299.35 L547.52,300.46 L547.59,301.56 L547.66,302.66 L547.73,303.76 L547.80,304.86 L547.86,305.97 L547.93,307.07 L548.00,308.17 L548.06,309.27 L548.13,310.38 L548.20,311.48 L548.27,312.58 L548.34,313.68 L548.42,314.78 L548.49,315.88 L548.57,316.99 L548.65,318.09 L548.73,319.19 L548.81,320.29 L548.90,321.39 L548.99,322.49 L549.08,323.59 L549.18,324.68 L549.28,325.78 L549.39,326.88 L549.53,327.97 L549.68,329.07 L549.84,330.16 L550.00,331.26 L550.15,332.35 L550.30,333.44 L550.42,334.54 L550.51,335.64 L550.59,336.74 L550.65,337.84 L550.72,338.94 L550.78,340.04 L550.83,341.14 L550.88,342.24 L550.93,343.35 L550.97,344.45 L551.02,345.55 L551.06,346.66 L551.10,347.76 L551.15,348.87 L551.19,349.97 L551.24,351.07 L551.29,352.18 L551.34,353.28 L551.40,354.38 L551.46,355.48 L551.52,356.59 L551.59,357.69 L551.66,358.79 L551.73,359.89 L551.80,360.99 L551.87,362.09 L551.95,363.19 L552.02,364.30 L552.10,365.40 L552.17,366.50 L552.24,367.60 L552.32,368.70 L552.39,369.80 L552.46,370.91 L552.52,372.01 L552.59,373.11 L552.65,374.21 L552.71,375.31 L552.78,376.41 L552.84,377.52 L552.90,378.62 L552.96,379.72 L553.01,380.82 L553.07,381.93 L553.13,383.03 L553.19,384.13 L553.24,385.23 L553.30,386.33 L553.36,387.44 L553.41,388.54 L553.47,389.64 L553.52,390.74 L553.58,391.85 L553.63,392.95 L553.69,394.05 L553.74,395.15 L553.79,396.26 L553.84,397.36 L553.89,398.46 L553.94,399.57 L553.98,400.67 L554.03,401.77 L554.08,402.87 L554.13,403.98 L554.18,405.08 L554.24,406.18 L554.29,407.28 L554.35,408.39 L554.40,409.49 L554.47,410.59 L554.53,411.69 L554.60,412.79 L554.67,413.89 L554.75,415.00 L554.83,416.10 L554.91,417.20 L555.00,418.30 L555.09,419.40 L555.17,420.50 L555.26,421.60 L555.35,422.70 L555.44,423.80 L555.52,424.90 L555.61,426.00 L555.69,427.10 L555.77,428.20 L555.84,429.30 L555.91,430.41 L555.97,431.51 L556.03,432.61 L556.09,433.71 L556.15,434.81 L556.21,435.92 L556.27,437.02 L556.32,438.12 L556.37,439.22 L556.43,440.33 L556.48,441.43 L556.53,442.53 L556.58,443.63 L556.63,444.74 L556.68,445.84 L556.73,446.94 L556.78,448.04 L556.83,449.15 L556.88,450.25 L556.93,451.35 L556.98,452.46 L557.04,453.56 L557.09,454.66 L557.15,455.76 L557.21,456.87 L557.27,457.97 L557.33,459.07 L557.39,460.17 L557.46,461.27 L557.52,462.37 L557.59,463.48 L557.67,464.58 L557.74,465.68 L557.81,466.78 L557.89,467.88 L557.96,468.98 L558.03,470.09 L558.11,471.19 L558.18,472.29 L558.25,473.39 L558.32,474.49 L558.39,475.59 L558.45,476.69 L558.51,477.80 L558.57,478.90 L558.63,480.00 L558.69,481.10 L558.74,482.21 L558.80,483.31 L558.85,484.41 L558.90,485.51 L558.96,486.62 L559.01,487.72 L559.06,488.82 L559.11,489.92 L559.15,491.03 L559.20,492.13 L559.25,493.23 L559.29,494.33 L559.34,495.44 L559.38,496.54 L559.42,497.64 L559.46,498.75 L559.50,499.85" stroke="#00f" stroke-dasharray="3.83 5.75" stroke-dashoffset="4.04"/>
<path d="M251,60.8 H328.1" stroke="#f00"/>
<path d="M251,95.8 H328.1" stroke="#0f0" stroke-dasharray="7.67 3.83"/>
<path d="M251,130.7 H327.2" stroke="#00f" stroke-dasharray="3.83 5.75"/>
</g>
<rect x="129.30" y="31.60" width="612.10" height="468.40" fill="none" stroke="#000" stroke-width="2.20"/>
<text transform="translate(113.50,509.80) scale(1,1.030)"><tspan x="-15.57" y="0.00" font-size="28.00">0</tspan></text>
<text transform="translate(113.50,462.96) scale(1,1.030)"><tspan x="-38.92 -23.35 -15.57" y="0.00" font-size="28.00">0.2</tspan></text>
<text transform="translate(113.50,416.12) scale(1,1.030)"><tspan x="-38.92 -23.35 -15.57" y="0.00" font-size="28.00">0.4</tspan></text>
<text transform="translate(113.50,369.28) scale(1,1.030)"><tspan x="-38.92 -23.35 -15.57" y="0.00" font-size="28.00">0.6</tspan></text>
<text transform="translate(113.50,322.44) scale(1,1.030)"><tspan x="-38.92 -23.35 -15.57" y="0.00" font-size="28.00">0.8</tspan></text>
<text transform="translate(113.50,275.60) scale(1,1.030)" clip-path="url(#k1)"><tspan x="-14.67" y="0.00" font-size="28.00">1</tspan></text>
<text transform="translate(113.50,228.76) scale(1,1.030)" clip-path="url(#k2)"><tspan x="-38.02 -23.35 -15.57" y="0.00" font-size="28.00">1.2</tspan></text>
<text transform="translate(113.50,181.92) scale(1,1.030)" clip-path="url(#k3)"><tspan x="-38.02 -23.35 -15.57" y="0.00" font-size="28.00">1.4</tspan></text>
<text transform="translate(113.50,135.08) scale(1,1.030)" clip-path="url(#k4)"><tspan x="-38.02 -23.35 -15.57" y="0.00" font-size="28.00">1.6</tspan></text>
<text transform="translate(113.50,88.24) scale(1,1.030)" clip-path="url(#k5)"><tspan x="-38.02 -23.35 -15.57" y="0.00" font-size="28.00">1.8</tspan></text>
<text transform="translate(113.50,40.70) scale(1,1.030)"><tspan x="-15.57" y="0.00" font-size="28.00">2</tspan></text>
<text transform="translate(757.20,509.60) scale(1,1.030)"><tspan x="0.00" y="0.00" font-size="28.00">0</tspan></text>
<text transform="translate(757.20,442.69) scale(1,1.030)" clip-path="url(#k6)"><tspan x="0.90" y="0.00" font-size="28.00">1</tspan></text>
<text transform="translate(757.20,375.77) scale(1,1.030)"><tspan x="0.00" y="0.00" font-size="28.00">2</tspan></text>
<text transform="translate(757.20,308.86) scale(1,1.030)"><tspan x="0.00" y="0.00" font-size="28.00">3</tspan></text>
<text transform="translate(757.20,241.94) scale(1,1.030)"><tspan x="0.00" y="0.00" font-size="28.00">4</tspan></text>
<text transform="translate(757.20,175.43) scale(1,1.030)"><tspan x="0.00" y="0.00" font-size="28.00">5</tspan></text>
<text transform="translate(757.20,108.11) scale(1,1.030)"><tspan x="0.00" y="0.00" font-size="28.00">6</tspan></text>
<text transform="translate(757.20,40.90) scale(1,1.030)"><tspan x="0.00" y="0.00" font-size="28.00">7</tspan></text>
<text transform="translate(184.87,539.30) scale(1,1.030)" clip-path="url(#k7)"><tspan x="-24.32 -9.65" y="0.00" font-size="28.00">10</tspan><tspan x="5.92 13.15" y="-13.20" font-size="21.70">-4</tspan></text>
<text transform="translate(264.38,539.30) scale(1,1.030)" clip-path="url(#k8)"><tspan x="-24.32 -9.65" y="0.00" font-size="28.00">10</tspan><tspan x="5.92 13.15" y="-13.20" font-size="21.70">-3</tspan></text>
<text transform="translate(343.88,539.30) scale(1,1.030)" clip-path="url(#k9)"><tspan x="-24.32 -9.65" y="0.00" font-size="28.00">10</tspan><tspan x="5.92 13.15" y="-13.20" font-size="21.70">-2</tspan></text>
<text transform="translate(423.38,539.30) scale(1,1.030)" clip-path="url(#k10)"><tspan x="-24.32 -9.65" y="0.00" font-size="28.00">10</tspan><tspan x="5.92 13.85" y="-13.20" font-size="21.70">-1</tspan></text>
<text transform="translate(502.89,539.30) scale(1,1.030)" clip-path="url(#k11)"><tspan x="-14.67 0.00" y="0.00" font-size="28.00">10</tspan></text>
<text transform="translate(582.39,539.30) scale(1,1.030)" clip-path="url(#k12)"><tspan x="-20.71 -6.03" y="0.00" font-size="28.00">10</tspan><tspan x="10.24" y="-13.20" font-size="21.70">1</tspan></text>
<text transform="translate(661.90,539.30) scale(1,1.030)" clip-path="url(#k13)"><tspan x="-20.71 -6.03" y="0.00" font-size="28.00">10</tspan><tspan x="9.54" y="-13.20" font-size="21.70">2</tspan></text>
<text transform="translate(741.40,539.30) scale(1,1.030)" clip-path="url(#k14)"><tspan x="-20.71 -6.03" y="0.00" font-size="28.00">10</tspan><tspan x="9.54" y="-13.20" font-size="21.70">3</tspan></text>
<text transform="translate(435.40,569.00) scale(1,1.000)"><tspan x="-17.70 -9.92 -2.14" y="0.00" font-size="28.00">t/t</tspan><tspan x="5.63" y="8.00" font-size="21.70">0</tspan></text>
<text transform="translate(234.80,67.40) scale(1,1.000)"><tspan x="-19.44" y="0.00" font-size="28.00">t</tspan><tspan x="-11.66" y="8.00" font-size="20.50">ρ</tspan></text>
<text transform="translate(234.80,102.30) scale(1,1.000)"><tspan x="-66.90" y="0.00" font-size="28.00">t</tspan><tspan x="-59.12 -48.27 -36.21 -24.14 -12.07" y="8.00" font-size="21.70">sound</tspan></text>
<text transform="translate(234.80,137.20) scale(1,1.000)"><tspan x="-47.59" y="0.00" font-size="28.00">t</tspan><tspan x="-39.81 -28.96 -16.89 -4.82" y="8.00" font-size="21.70">cool</tspan></text>
<text transform="translate(41.80,266.00) rotate(-90) scale(1,1.000)"><tspan x="-54.84" y="0.00" font-size="28.00">t</tspan><tspan x="-47.06" y="8.00" font-size="20.50">ρ</tspan><tspan x="-35.40 -27.62 -19.84 -12.06" y="0.00" font-size="28.00"> , t</tspan><tspan x="-4.28 6.57 18.64 30.70 42.77" y="8.00" font-size="21.70">sound</tspan></text>
<text transform="translate(809.80,266.00) rotate(-90) scale(1,1.000)"><tspan x="-23.79" y="0.00" font-size="28.00">t</tspan><tspan x="-16.01 -5.16 6.90 18.97" y="8.00" font-size="21.70">cool</tspan></text>
<defs><clipPath id="k1"><path clip-rule="evenodd" d="M-20.57,-40 H5.00 V20 H-20.57 Z M-14.95,-5.60 H-7.63 V1.00 H-14.95 Z M-5.16,-5.60 H1.43 V1.00 H-5.16 Z"/></clipPath><clipPath id="k2"><path clip-rule="evenodd" d="M-43.92,-40 H5.00 V20 H-43.92 Z M-38.30,-5.60 H-30.98 V1.00 H-38.30 Z M-28.51,-5.60 H-21.92 V1.00 H-28.51 Z"/></clipPath><clipPath id="k3"><path clip-rule="evenodd" d="M-43.92,-40 H5.00 V20 H-43.92 Z M-38.30,-5.60 H-30.98 V1.00 H-38.30 Z M-28.51,-5.60 H-21.92 V1.00 H-28.51 Z"/></clipPath><clipPath id="k4"><path clip-rule="evenodd" d="M-43.92,-40 H5.00 V20 H-43.92 Z M-38.30,-5.60 H-30.98 V1.00 H-38.30 Z M-28.51,-5.60 H-21.92 V1.00 H-28.51 Z"/></clipPath><clipPath id="k5"><path clip-rule="evenodd" d="M-43.92,-40 H5.00 V20 H-43.92 Z M-38.30,-5.60 H-30.98 V1.00 H-38.30 Z M-28.51,-5.60 H-21.92 V1.00 H-28.51 Z"/></clipPath><clipPath id="k6"><path clip-rule="evenodd" d="M-5.00,-40 H20.57 V20 H-5.00 Z M0.62,-5.60 H7.94 V1.00 H0.62 Z M10.42,-5.60 H17.00 V1.00 H10.42 Z"/></clipPath><clipPath id="k7"><path clip-rule="evenodd" d="M-30.22,-40 H30.22 V20 H-30.22 Z M-24.60,-5.60 H-17.28 V1.00 H-24.60 Z M-14.80,-5.60 H-8.22 V1.00 H-14.80 Z"/></clipPath><clipPath id="k8"><path clip-rule="evenodd" d="M-30.22,-40 H30.22 V20 H-30.22 Z M-24.60,-5.60 H-17.28 V1.00 H-24.60 Z M-14.80,-5.60 H-8.22 V1.00 H-14.80 Z"/></clipPath><clipPath id="k9"><path clip-rule="evenodd" d="M-30.22,-40 H30.22 V20 H-30.22 Z M-24.60,-5.60 H-17.28 V1.00 H-24.60 Z M-14.80,-5.60 H-8.22 V1.00 H-14.80 Z"/></clipPath><clipPath id="k10"><path clip-rule="evenodd" d="M-30.22,-40 H30.22 V20 H-30.22 Z M-24.60,-5.60 H-17.28 V1.00 H-24.60 Z M-14.80,-5.60 H-8.22 V1.00 H-14.80 Z M13.63,-17.54 H19.31 V-12.20 H13.63 Z M21.22,-17.54 H26.33 V-12.20 H21.22 Z"/></clipPath><clipPath id="k11"><path clip-rule="evenodd" d="M-20.57,-40 H20.57 V20 H-20.57 Z M-14.95,-5.60 H-7.63 V1.00 H-14.95 Z M-5.16,-5.60 H1.43 V1.00 H-5.16 Z"/></clipPath><clipPath id="k12"><path clip-rule="evenodd" d="M-26.61,-40 H26.61 V20 H-26.61 Z M-20.99,-5.60 H-13.67 V1.00 H-20.99 Z M-11.19,-5.60 H-4.61 V1.00 H-11.19 Z M10.02,-17.54 H15.69 V-12.20 H10.02 Z M17.61,-17.54 H22.71 V-12.20 H17.61 Z"/></clipPath><clipPath id="k13"><path clip-rule="evenodd" d="M-26.61,-40 H26.61 V20 H-26.61 Z M-20.99,-5.60 H-13.67 V1.00 H-20.99 Z M-11.19,-5.60 H-4.61 V1.00 H-11.19 Z"/></clipPath><clipPath id="k14"><path clip-rule="evenodd" d="M-26.61,-40 H26.61 V20 H-26.61 Z M-20.99,-5.60 H-13.67 V1.00 H-20.99 Z M-11.19,-5.60 H-4.61 V1.00 H-11.19 Z"/></clipPath></defs>
</svg>
</body>
</html>
